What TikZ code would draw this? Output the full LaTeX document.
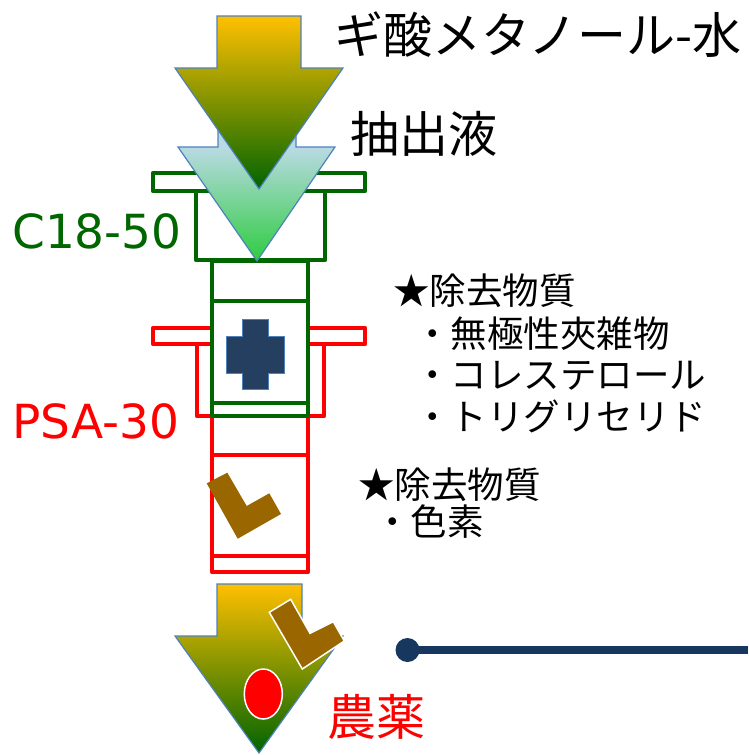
\documentclass[tikz,border=0pt]{standalone}
\usepackage{fontspec}
\newfontfamily\jpfont{Noto Sans CJK JP}
\newfontfamily\latfont{DejaVu Sans}
\definecolor{cgreen}{RGB}{0,102,0}
\definecolor{cred}{RGB}{255,0,0}
\definecolor{cgold}{RGB}{255,192,0}
\definecolor{colive}{RGB}{140,150,0}
\definecolor{cdkgreen}{RGB}{0,100,0}
\definecolor{clblue}{RGB}{184,218,226}
\definecolor{cbright}{RGB}{46,204,64}
\definecolor{cedge}{RGB}{79,129,189}
\definecolor{cnavy}{RGB}{36,63,96}
\definecolor{cline}{RGB}{23,55,94}
\definecolor{cbrown}{RGB}{153,102,0}
% light blue down to the head, then fading to bright green at the tip
\pgfdeclareverticalshading{extractshade}{100bp}{%
  color(0bp)=(cbright); color(25bp)=(cbright); color(60bp)=(clblue);
  color(75bp)=(clblue); color(100bp)=(clblue)}
\tikzset{
  greenpart/.style={draw=cgreen, line width=4.5pt, line join=round},
  redpart/.style={draw=cred, line width=4.5pt, line join=round},
  flowarrow/.style={draw=cedge, line width=1.2pt, line join=miter},
  jplabel/.style={font=\jpfont, inner sep=0pt, anchor=west},
  latlabel/.style={font=\latfont, inner sep=0pt, anchor=west},
}
\begin{document}
\begin{tikzpicture}[x=1pt, y=-1pt]
\useasboundingbox (0,0) rectangle (748,755);

% PSA-30 cartridge (red)
\draw[redpart, fill=white] (153,328) rectangle (365,344);
\draw[redpart, fill=white] (197,344) rectangle (324,416);
\draw[redpart, fill=white] (212,416) rectangle (308,572);
\draw[redpart] (212,455) -- (308,455);
\draw[redpart] (212,556) -- (308,556);

% C18-50 cartridge (green)
\draw[greenpart, fill=white] (153,173) rectangle (365,191);
\draw[greenpart, fill=white] (196,191) rectangle (325,260);
\draw[greenpart, fill=white] (212,261) rectangle (308,416);
\draw[greenpart] (212,301) -- (308,301);
\draw[greenpart] (212,403) -- (308,403);

% sorbent symbols
\draw[draw=cedge, line width=1pt, fill=cnavy]
  (242.7,319) -- (268.3,319) -- (268.3,336) -- (284.7,336) -- (284.7,373)
  -- (268.3,373) -- (268.3,389) -- (242.7,389) -- (242.7,373) -- (226.7,373)
  -- (226.7,336) -- (242.7,336) -- cycle;
\fill[cbrown] (206.7,483.3) -- (227.3,472.7) -- (246.7,506) -- (269.3,493.3)
  -- (281,514) -- (237.7,538.7) -- cycle;

% extract arrow
\draw[flowarrow, shading=extractshade]
  (218,100) -- (296,100) -- (296,147) -- (335,147) -- (257,261)
  -- (178,147) -- (218,147) -- cycle;
% solvent arrow
\draw[flowarrow, top color=cgold, middle color=colive, bottom color=cdkgreen]
  (217,16) -- (301,16) -- (301,68) -- (343,68) -- (259,189)
  -- (175,68) -- (217,68) -- cycle;

% eluate arrow
\draw[flowarrow, top color=cgold, middle color=colive, bottom color=cdkgreen]
  (217,584) -- (302,584) -- (302,636) -- (343,636) -- (259,753)
  -- (175,636) -- (217,636) -- cycle;
\draw[draw=white, line width=1.5pt, fill=cbrown] (269.3,612.3) -- (290.7,599.3)
  -- (310,633.3) -- (333.3,621.7) -- (344.3,641) -- (302.3,669) -- cycle;
\draw[draw=white, line width=1.5pt, fill=cred] (263.3,694) ellipse [x radius=19, y radius=25];

% pointer line
\node[circle, fill=cline, minimum size=24pt, inner sep=0pt] (dot) at (407.5,650) {};
\coordinate (lineend) at (748,650);
\draw[cline, line width=8pt] (dot.center) -- (lineend);

% labels
\node[jplabel, font=\jpfont\fontsize{49}{49}\selectfont] (solvent) at (334,35) {ギ酸メタノール-水};
\node[jplabel, font=\jpfont\fontsize{49}{49}\selectfont] (extract) at (350,134) {抽出液};
\node[latlabel, font=\latfont\fontsize{47}{47}\selectfont, text=cgreen] (c18) at (12,231) {C18-50};
\node[latlabel, font=\latfont\fontsize{47}{47}\selectfont, text=cred] (psa) at (12,421) {PSA-30};

\node[jplabel, font=\jpfont\fontsize{36.5}{36.5}\selectfont] (rm1) at (393,291) {★除去物質};
\node[jplabel, font=\jpfont\fontsize{36.5}{36.5}\selectfont] (rm1a) at (414,334) {・無極性夾雑物};
\node[jplabel, font=\jpfont\fontsize{36.5}{36.5}\selectfont] (rm1b) at (414,376) {・コレステロール};
\node[jplabel, font=\jpfont\fontsize{36.5}{36.5}\selectfont] (rm1c) at (414,416) {・トリグリセリド};

\node[jplabel, font=\jpfont\fontsize{36.5}{36.5}\selectfont] (rm2) at (358,485) {★除去物質};
\node[jplabel, font=\jpfont\fontsize{36.5}{36.5}\selectfont] (rm2a) at (374,522) {・色素};

\node[jplabel, font=\jpfont\fontsize{49}{49}\selectfont, text=cred] (pest) at (327,717) {農薬};
\end{tikzpicture}
\end{document}
